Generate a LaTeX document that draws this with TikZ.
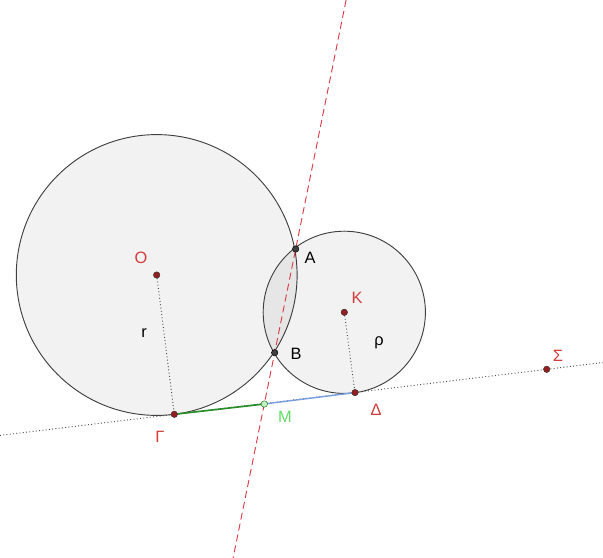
\documentclass[tikz,border=0pt]{standalone}
\usepackage{fontspec}
\setmainfont{Liberation Sans}
\definecolor{ptred}{RGB}{150,30,30}
\definecolor{lblred}{RGB}{210,60,60}
\definecolor{lblgreen}{RGB}{100,220,100}
\definecolor{segblue}{RGB}{120,160,225}
\definecolor{seggreen}{RGB}{40,140,40}
\definecolor{axisred}{RGB}{220,60,70}
\begin{document}
\begin{tikzpicture}[x=0.03cm,y=-0.03cm,
  font=\fontsize{14}{16}\selectfont,
  rpt/.style={circle,draw=black!80,fill=ptred,inner sep=0pt,minimum size=5.5pt},
  kpt/.style={circle,draw=black,fill=black!75,inner sep=0pt,minimum size=5.5pt},
  lbl/.style={inner sep=0pt}]
  \useasboundingbox (0,0) rectangle (603,558);
  % points
  \coordinate (O) at (156.7,275);
  \coordinate (K) at (344.3,312.3);
  \coordinate (A) at (295.7,249);
  \coordinate (B) at (274.7,352.7);
  \coordinate (G) at (174.3,414.3);
  \coordinate (M) at (264.3,404.0);
  \coordinate (D) at (355,392.6);
  \coordinate (S) at (546.7,369.3);
  \coordinate (L1) at (0,435.4);
  \coordinate (L2) at (603,362.5);
  \coordinate (R1) at (346.1,0);
  \coordinate (R2) at (233.1,558);
  % circles
  \draw[black!75,line width=0.8pt,fill=black,fill opacity=0.05] (O) circle[radius=140.4];
  \draw[black!75,line width=0.8pt,fill=black,fill opacity=0.05] (K) circle[radius=81.1];
  % tangent line and radii
  \draw[black!70,dotted,thick] (L1) -- (L2);
  \draw[black!70,dotted,thick] (O) -- (G);
  \draw[black!70,dotted,thick] (K) -- (D);
  % radical axis
  \draw[axisred,dash pattern=on 6pt off 3.5pt,thick] (R1) -- (R2);
  % tangent pieces
  \draw[seggreen,line width=1.4pt] (G) -- (M);
  \draw[segblue,line width=1.2pt] (M) -- (D);
  % dots
  \node[rpt] (O-pt) at (O) {};
  \node[rpt] (K-pt) at (K) {};
  \node[rpt] (G-pt) at (G) {};
  \node[rpt] (D-pt) at (D) {};
  \node[rpt] (S-pt) at (S) {};
  \node[kpt] (A-pt) at (A) {};
  \node[kpt] (B-pt) at (B) {};
  \node[circle,draw=seggreen!80!black,fill=lblgreen!40,inner sep=0pt,minimum size=5.5pt] (M-pt) at (M) {};
  % labels
  \node[lbl,text=lblred] (O-l) at (141,258) {Ο};
  \node[lbl,text=lblred] (K-l) at (357,298) {Κ};
  \node[lbl,text=lblred] (G-l) at (160,437) {Γ};
  \node[lbl,text=lblred] (D-l) at (376,410) {Δ};
  \node[lbl,text=lblred] (S-l) at (558,356) {Σ};
  \node[lbl,text=lblgreen] (M-l) at (285,417) {Μ};
  \node[lbl] (A-l) at (310,258) {Α};
  \node[lbl] (B-l) at (296,354) {Β};
  \node[lbl] (r-l) at (144,333) {r};
  \node[lbl] (p-l) at (379,343) {ρ};
\end{tikzpicture}
\end{document}
